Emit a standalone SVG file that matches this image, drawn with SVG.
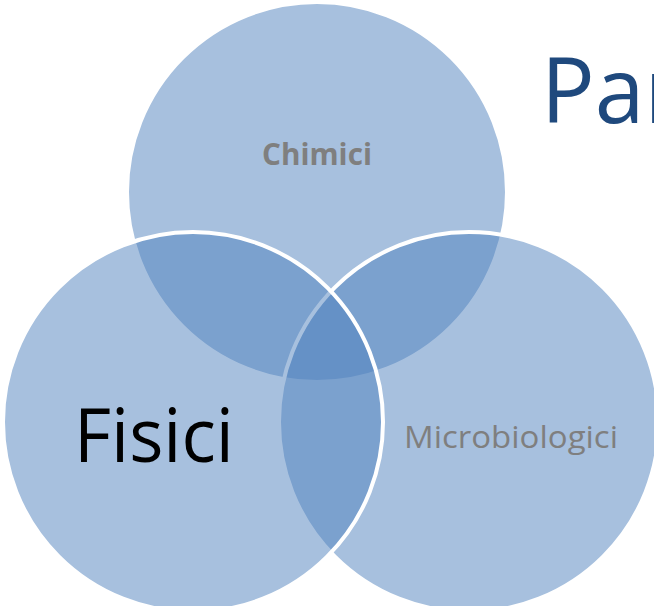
<svg xmlns="http://www.w3.org/2000/svg" width="654" height="606" viewBox="0 0 654 606">
  <style>
    .set { fill: #4F81BD; fill-opacity: 0.5; stroke: #FFFFFF; stroke-width: 4; }
    .lbl { font-family: "Open Sans", "Noto Sans", "Liberation Sans", sans-serif; fill: #7F7F7F; }
    .title { font-family: "Open Sans", "Noto Sans", "Liberation Sans", sans-serif; fill: #1F497D; }
  </style>
  <rect width="654" height="606" fill="#FFFFFF"/>

  <!-- heading, runs off the right edge -->
  <text class="title" x="541" y="123" font-size="92" textLength="140" lengthAdjust="spacingAndGlyphs">Par</text>

  <!-- Venn sets: top, right, then left on top -->
  <g id="chimici">
    <circle class="set" cx="317" cy="192" r="190"/>
    <text class="lbl" x="317" y="165" font-size="31" font-weight="bold" text-anchor="middle" textLength="110" lengthAdjust="spacingAndGlyphs">Chimici</text>
  </g>
  <g id="microbiologici">
    <circle class="set" cx="469" cy="422" r="190"/>
    <text class="lbl" x="511" y="448" font-size="31" text-anchor="middle" textLength="214" lengthAdjust="spacingAndGlyphs">Microbiologici</text>
  </g>
  <g id="fisici">
    <circle class="set" cx="193" cy="422" r="190"/>
    <text x="154" y="462" font-family="Open Sans, Noto Sans, Liberation Sans, sans-serif" font-size="75" fill="#000000" text-anchor="middle" textLength="160" lengthAdjust="spacingAndGlyphs">Fisici</text>
  </g>

  <!-- no connectors in this diagram -->
  <g id="connectors"/>
</svg>
